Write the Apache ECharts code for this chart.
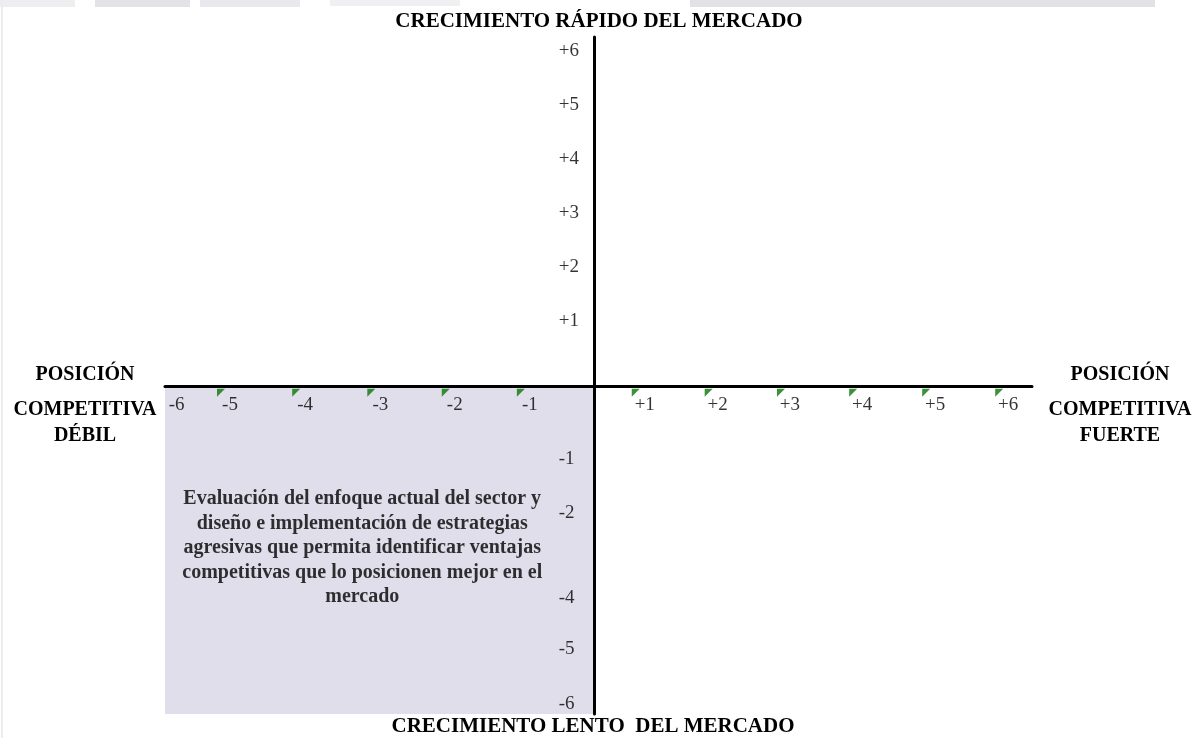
<!DOCTYPE html>
<html>
<head>
<meta charset="utf-8">
<script src="https://cdn.jsdelivr.net/npm/echarts@6/dist/echarts.min.js"></script>
<style>html,body{margin:0;padding:0;background:#fff}#c{width:1202px;height:738px}</style>
</head>
<body>
<div id="c"></div>
<script>
// ---- data ----
const xTickLabels = ['-6','-5','-4','-3','-2','-1','+1','+2','+3','+4','+5','+6'];
const xTickPos    = [-5.78,-5.04,-4.0,-2.96,-1.93,-0.89,0.70,1.71,2.71,3.71,4.72,5.73];
const xTickFlag   = [false,true,true,true,true,true,true,true,true,true,true,true];
const yTickLabels = ['+6','+5','+4','+3','+2','+1','-1','-2','-4','-5','-6'];
const yTickPos    = [6.2,5.2,4.2,3.2,2.2,1.2,-1.35,-2.34,-3.91,-4.85,-5.87];
const xLabelRow = -0.34;
const yLabelCol = -0.49;
const quadrantText = ['Evaluación del enfoque actual del sector y','diseño e implementación de estrategias','agresivas que permita identificar ventajas','competitivas que lo posicionen mejor en el','mercado'];
const quadrantPos = [-3.21, -2.99];
const topTitle = 'CRECIMIENTO RÁPIDO DEL MERCADO';
const bottomTitle = 'CRECIMIENTO LENTO  DEL MERCADO';
const leftTitle = ['POSICIÓN','COMPETITIVA','DÉBIL'];
const rightTitle = ['POSICIÓN','COMPETITIVA','FUERTE'];
const xMin = -5.94, xMax = 6.06, yMin = -6.06, yMax = 6.46;

// ---- chart ----
const SERIF = '"Liberation Serif","Times New Roman",serif';
const chart = echarts.init(document.getElementById('c'), null, {renderer:'canvas'});
const titleFont = 'bold 21px ' + SERIF;
const sideFont = 'bold 20px ' + SERIF;
function lines(arr, cx, ys){
  return arr.map((t,i)=>({type:'text', x:cx, y:ys[i], z:20,
    style:{text:t, font:sideFont, fill:'#000', align:'center', verticalAlign:'middle'}}));
}
chart.setOption({
  animation:false,
  backgroundColor:'#fff',
  grid:{left:165, right:170, top:37, bottom:24, containLabel:false},
  xAxis:{type:'value', min:xMin, max:xMax, z:10,
    axisLine:{show:true, onZero:true, lineStyle:{color:'#000', width:3}},
    axisTick:{show:false}, axisLabel:{show:false}, splitLine:{show:false}},
  yAxis:{type:'value', min:yMin, max:yMax, z:10,
    axisLine:{show:true, onZero:true, lineStyle:{color:'#000', width:3}},
    axisTick:{show:false}, axisLabel:{show:false}, splitLine:{show:false}},
  graphic:[
    {type:'rect', shape:{x:0,y:0,width:75,height:7}, style:{fill:'#eeeef1'}},
    {type:'rect', shape:{x:95,y:0,width:95,height:7}, style:{fill:'#e2e2e7'}},
    {type:'rect', shape:{x:200,y:0,width:100,height:7}, style:{fill:'#e9e9ed'}},
    {type:'rect', shape:{x:330,y:0,width:130,height:6}, style:{fill:'#f0f0f3'}},
    {type:'rect', shape:{x:690,y:0,width:465,height:7}, style:{fill:'#e1e1e6'}},
    {type:'rect', shape:{x:1,y:0,width:2,height:738}, style:{fill:'#ececec'}},
    {type:'text', x:599, y:22, z:20, style:{text:topTitle, font:titleFont, fill:'#000', align:'center', verticalAlign:'middle'}},
    {type:'text', x:593, y:727, z:20, style:{text:bottomTitle, font:titleFont, fill:'#000', align:'center', verticalAlign:'middle'}}
  ].concat(lines(leftTitle, 85, [375,410,436]), lines(rightTitle, 1120, [375,410,436])),
  series:[
    {type:'scatter', name:'xticks', symbolSize:0, silent:true, clip:false,
      data: xTickPos.map((x,i)=>[x, xLabelRow, xTickLabels[i]]),
      label:{show:true, position:'inside', formatter:p=>p.data[2], color:'#000', fontFamily:SERIF, fontSize:19},
      markArea:{silent:true, itemStyle:{color:'#e1deeb'}, data:[[{coord:[xMin,0]},{coord:[0,yMin]}]]}
    },
    {type:'scatter', name:'flags', silent:true, clip:false, z:12,
      symbol:'path://M0,0L10,0L0,10Z', symbolSize:8, symbolOffset:[-9,-12],
      itemStyle:{color:'#087808'},
      data: xTickPos.map((x,i)=>[x, xLabelRow, xTickFlag[i]]).filter(d=>d[2])
    },
    {type:'scatter', name:'yticks', symbolSize:0, silent:true, clip:false,
      data: yTickPos.map((y,i)=>[yLabelCol, y, yTickLabels[i]]),
      label:{show:true, position:'inside', align:'left', formatter:p=>p.data[2], color:'#000', fontFamily:SERIF, fontSize:19}
    },
    {type:'scatter', name:'quadrant', symbolSize:0, silent:true, clip:false,
      data:[[quadrantPos[0], quadrantPos[1], quadrantText.join('\n')]],
      label:{show:true, position:'inside', align:'center', verticalAlign:'middle', formatter:p=>p.data[2], color:'#000', fontFamily:SERIF, fontWeight:'bold', fontSize:20, lineHeight:24.5}
    }
  ]
});
</script>
</body>
</html>
